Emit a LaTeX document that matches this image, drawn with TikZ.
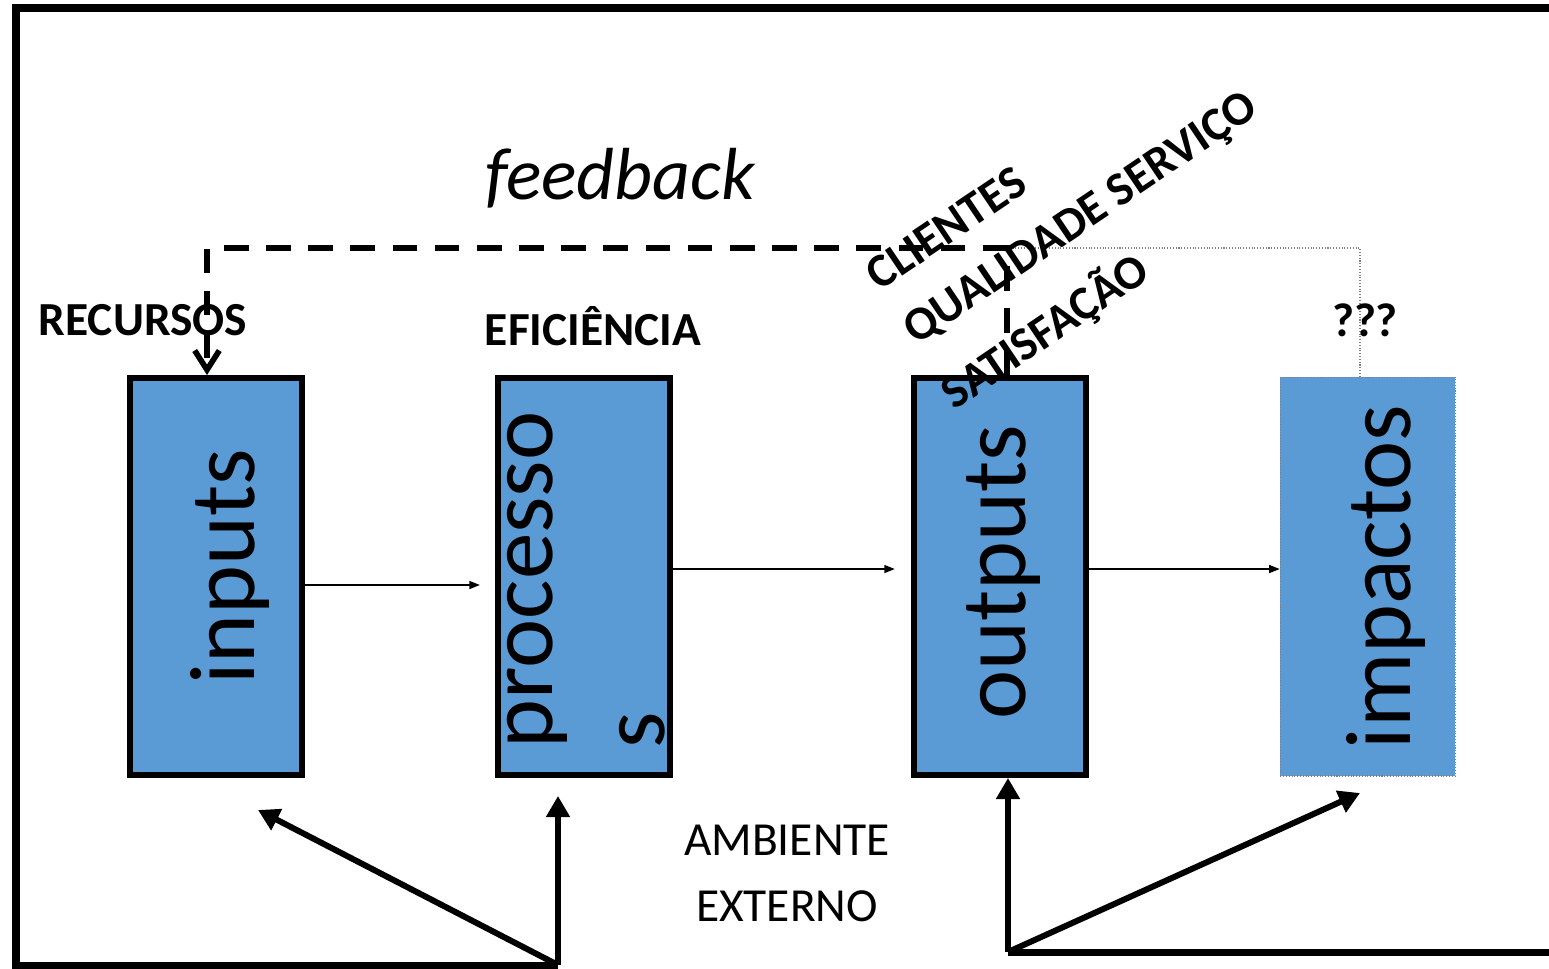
\documentclass[tikz,border=0pt]{standalone}
\usepackage{fontspec}
\setmainfont{Carlito}
\usetikzlibrary{arrows.meta,positioning}
\definecolor{boxblue}{RGB}{91,155,213}
\tikzset{%
	box/.style      = {draw, line width=3.4pt, fill=boxblue, rectangle, minimum width=3.44cm, minimum height=7.94cm, inner sep=0pt}, % stage
	dotbox/.style   = {draw=gray, densely dotted, line width=0.6pt, fill=boxblue, rectangle, minimum width=3.5cm, minimum height=7.98cm, inner sep=0pt}, % stage, unsure
	bigtxt/.style   = {font=\fontsize{53}{64}\selectfont, rotate=90, inner sep=0pt},
	tag/.style      = {font=\fontsize{27}{33}\selectfont\bfseries, inner sep=0pt},
	slanttag/.style = {tag, rotate=34},
	flow/.style     = {-{Triangle[length=6pt,width=4.5pt]}, line width=0.9pt},
	envarrow/.style = {-{Triangle[length=12pt,width=13pt]}, line width=3.4pt},
	fbline/.style   = {line width=3.2pt, dash pattern=on 14pt off 10pt},
	dotline/.style  = {draw=gray, densely dotted, line width=0.6pt},
	frame/.style    = {line width=4pt},
}
\begin{document}
\begin{tikzpicture}[x=0.02cm, y=-0.02cm]
	\useasboundingbox (0,0) rectangle (1549,968);
	% stages
	\node[box] (inp) at (216,576.5) {};
	\node[box, right=3.8cm of inp] (proc) {};
	\node[box, right=4.76cm of proc] (outp) {};
	\node[dotbox, right=3.82cm of outp] (imp) {};
	\node[bigtxt] (inptxt) at (230,567) {inputs};
	\node[bigtxt, align=left] (proctxt) at (586,580) {processo\\s};
	\node[bigtxt] (outptxt) at (1004,572) {outputs};
	\node[bigtxt] (imptxt) at (1386,577) {impactos};
	\draw[flow, shorten >=0.3cm] ([yshift=-0.17cm]inp.east) -- ([yshift=-0.17cm]proc.west);
	\draw[flow, shorten >=0.32cm] ([yshift=0.15cm]proc.east) -- ([yshift=0.15cm]outp.west);
	\draw[flow] ([yshift=0.15cm]outp.east) -- ([yshift=0.15cm]imp.west);
	
	% feedback loop
	\coordinate (fbR) at (1007,248);
	\coordinate (fbL) at (207,248);
	\coordinate (dotR) at (1360,248);
	\draw[fbline, -{Straight Barb[length=11pt,width=14pt]}] (outp.north -| fbR) -- (fbR) -- (fbL) -- (fbL |- inp.north);
	\draw[dotline] (fbR) -- (dotR) -- (dotR |- imp.north);
	
	% labels
	\node[font=\fontsize{42}{50}\selectfont\itshape] (fbtxt) at (620,178) {feedback};
	\node[tag] (recursos) at (143,320) {RECURSOS};
	\node[tag] (efic) at (593,326) {EFICIÊNCIA};
	\node[tag] (qqq) at (1365,320) {???};
	\node[slanttag] (clientes) at (946,228) {CLIENTES};
	\node[slanttag] (qualid) at (1082,220) {QUALIDADE SERVIÇO};
	\node[slanttag] (satisf) at (1045,331) {SATISFAÇÃO};
	\node[font=\fontsize{27}{37.6}\selectfont, align=center] (amb) at (787,873) {AMBIENTE\\EXTERNO};
	
	% environment
	\coordinate (envL) at (558,965);
	\coordinate (envR) at (1008,952);
	\coordinate (tipInp) at (258,810);
	\coordinate (tipImp) at (1360,793);
	\draw[frame] (1549,8) -- (16,8) -- (16,965) -- (envL);
	\draw[frame] (envR) -- (1549,952);
	\draw[envarrow] (envL) -- (tipInp);
	\draw[envarrow, shorten >=0.36cm] (envL) -- (envL |- proc.south);
	\draw[envarrow] (envR) -- (envR |- outp.south);
	\draw[envarrow] (envR) -- (tipImp);
\end{tikzpicture}
\end{document}
